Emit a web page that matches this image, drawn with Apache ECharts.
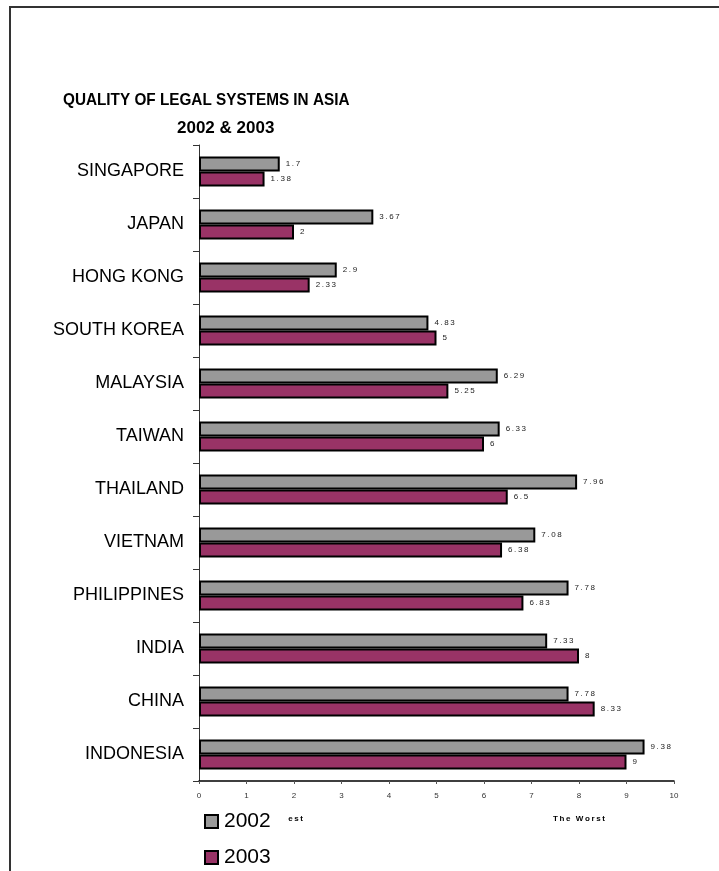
<!DOCTYPE html>
<html>
<head>
<meta charset="utf-8">
<script src="https://cdn.jsdelivr.net/npm/echarts@6/dist/echarts.min.js"></script>
<style>
  html, body { margin: 0; padding: 0; background: #fff; }
  #chart { width: 719px; height: 871px; }
</style>
</head>
<body>
<div id="chart"></div>
<script>
// countries, top to bottom
var countries = ['SINGAPORE', 'JAPAN', 'HONG KONG', 'SOUTH KOREA', 'MALAYSIA', 'TAIWAN',
  'THAILAND', 'VIETNAM', 'PHILIPPINES', 'INDIA', 'CHINA', 'INDONESIA'];
var values2002 = [1.7, 3.67, 2.9, 4.83, 6.29, 6.33, 7.96, 7.08, 7.78, 7.33, 7.78, 9.38];
var values2003 = [1.38, 2, 2.33, 5, 5.25, 6, 6.5, 6.38, 6.83, 8, 8.33, 9];
var xTicks = [0, 1, 2, 3, 4, 5, 6, 7, 8, 9, 10];

// spread characters out like the original's wide-tracked small labels
function spread(s) {
  return String(s).split('').join('\u2009');
}

var chart = echarts.init(document.getElementById('chart'));

var barLabel = {
  show: true,
  position: 'right',
  distance: 6,
  fontFamily: 'Liberation Sans, Arial',
  fontSize: 8,
  color: '#222',
  formatter: function(p) { return spread(p.value); }
};

var option = {
  animation: false,
  backgroundColor: '#fff',
  grid: { left: 199, right: 45, top: 145, bottom: 90, containLabel: false },
  xAxis: {
    type: 'value',
    min: xTicks[0],
    max: xTicks[xTicks.length - 1],
    interval: 1,
    splitLine: { show: false },
    axisLine: { show: true, lineStyle: { color: '#000', width: 1.5 } },
    axisTick: { show: true, length: 3, lineStyle: { color: '#555' } },
    axisLabel: {
      margin: 11,
      fontFamily: 'Liberation Sans, Arial',
      fontSize: 8,
      color: '#333'
    }
  },
  yAxis: {
    type: 'category',
    inverse: true,
    data: countries,
    axisLine: { show: true, lineStyle: { color: '#333', width: 1 } },
    axisTick: { show: true, length: 6, lineStyle: { color: '#333' } },
    axisLabel: {
      margin: 15,
      fontFamily: 'Liberation Sans, Arial',
      fontSize: 18,
      color: '#000'
    }
  },
  legend: {
    orient: 'vertical',
    left: 204,
    top: 811,
    padding: [0, 16, 0, 0],
    backgroundColor: '#fff',
    itemWidth: 13,
    itemHeight: 13,
    itemGap: 15,
    icon: 'rect',
    data: ['2002', '2003'],
    textStyle: { fontFamily: 'Liberation Sans, Arial', fontSize: 21, color: '#000', padding: [0, 0, 0, 1] }
  },
  series: [
    {
      name: '2002',
      type: 'bar',
      data: values2002,
      barWidth: 15,
      barGap: '0%',
      itemStyle: { color: '#999999', borderColor: '#000', borderWidth: 2 },
      label: barLabel
    },
    {
      name: '2003',
      type: 'bar',
      data: values2003,
      barWidth: 15,
      barGap: '0%',
      itemStyle: { color: '#993366', borderColor: '#000', borderWidth: 2 },
      label: barLabel
    }
  ],
  graphic: [
    {
      type: 'polyline',
      shape: { points: [[10, 871], [10, 7], [719, 7]] },
      style: { stroke: '#333', lineWidth: 2, fill: null }
    },
    {
      type: 'text', x: 63, y: 92, scaleX: 0.9,
      style: { text: 'QUALITY OF LEGAL SYSTEMS IN ASIA', font: 'bold 17px Liberation Sans, Arial', fill: '#000' }
    },
    {
      type: 'text', x: 177, y: 120,
      style: { text: '2002 & 2003', font: 'bold 17px Liberation Sans, Arial', fill: '#000' }
    },
    {
      type: 'text', left: 258, top: 815, z: -1,
      style: { text: spread('The Best'), font: 'bold 8px Liberation Sans, Arial', fill: '#000' }
    },
    {
      type: 'text', left: 553, top: 815,
      style: { text: spread('The Worst'), font: 'bold 8px Liberation Sans, Arial', fill: '#000' }
    }
  ]
};

chart.setOption(option);
</script>
</body>
</html>
